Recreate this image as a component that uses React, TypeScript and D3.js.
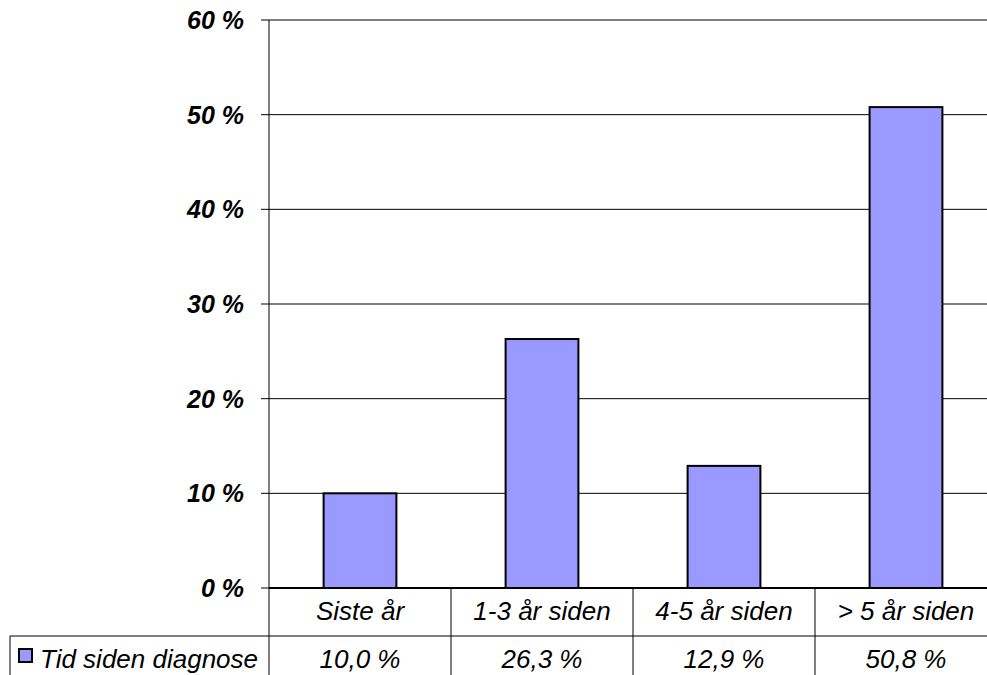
import React from "react";
import * as d3 from "d3";

const categories = ["Siste år", "1-3 år siden", "4-5 år siden", "> 5 år siden"];
const values = [10.0, 26.3, 12.9, 50.8];
const valueLabels = ["10,0 %", "26,3 %", "12,9 %", "50,8 %"];
const yTicks = [0, 10, 20, 30, 40, 50, 60];
const seriesName = "Tid siden diagnose";

const W = 987;
const H = 675;
const plotLeft = 269;
const plotRight = 997;
const plotTop = 20;
const plotBottom = 588;
const row1Bottom = 636;
const tableBottom = 680;
const legendLeft = 10;
const font = "'Liberation Sans', Arial, sans-serif";

export default function App() {
  const x = d3.scaleBand<string>().domain(categories).range([plotLeft, plotRight]).paddingInner(0).paddingOuter(0);
  const y = d3.scaleLinear().domain([0, 60]).range([plotBottom, plotTop]);
  const barW = x.bandwidth() * 0.4;
  const fill = "#9999ff";

  return (
    <svg width={W} height={H} style={{ position: "absolute", left: 0, top: 0, background: "#fff" }}>
      {/* gridlines and tick marks */}
      {yTicks.map((t) => (
        <g key={t}>
          <line x1={plotLeft - 8} x2={W} y1={y(t)} y2={y(t)} stroke="#000" strokeWidth={1} />
          <text
            x={244}
            y={y(t) + 9}
            textAnchor="end"
            fontFamily={font}
            fontSize={25}
            fontWeight="bold"
            fontStyle="italic"
            fill="#000"
          >
            {t} %
          </text>
        </g>
      ))}
      {/* bars */}
      {categories.map((c, i) => (
        <rect
          key={c}
          x={x(c)! + (x.bandwidth() - barW) / 2}
          y={y(values[i])}
          width={barW}
          height={y(0) - y(values[i])}
          fill={fill}
          stroke="#000"
          strokeWidth={2}
        />
      ))}
      {/* y axis */}
      <line x1={plotLeft} x2={plotLeft} y1={plotTop} y2={tableBottom} stroke="#000" strokeWidth={1} />
      <line x1={plotLeft} x2={W} y1={plotBottom} y2={plotBottom} stroke="#000" strokeWidth={2} />
      {/* data table */}
      <line x1={legendLeft} x2={W} y1={row1Bottom} y2={row1Bottom} stroke="#000" strokeWidth={1} />
      <line x1={legendLeft} x2={legendLeft} y1={row1Bottom} y2={tableBottom} stroke="#000" strokeWidth={1} />
      {categories.slice(1).map((c) => (
        <line key={c} x1={x(c)!} x2={x(c)!} y1={plotBottom} y2={tableBottom} stroke="#000" strokeWidth={1} />
      ))}
      {categories.map((c, i) => (
        <g key={c}>
          <text
            x={x(c)! + x.bandwidth() / 2}
            y={620}
            textAnchor="middle"
            fontFamily={font}
            fontSize={26}
            fontStyle="italic"
            fill="#000"
          >
            {c}
          </text>
          <text
            x={x(c)! + x.bandwidth() / 2}
            y={668}
            textAnchor="middle"
            fontFamily={font}
            fontSize={26}
            fontStyle="italic"
            fill="#000"
          >
            {valueLabels[i]}
          </text>
        </g>
      ))}
      {/* legend key */}
      <rect x={19} y={649} width={13} height={13} fill={fill} stroke="#000" strokeWidth={2} />
      <text x={40} y={668} fontFamily={font} fontSize={26} fontStyle="italic" fill="#000">
        {seriesName}
      </text>
    </svg>
  );
}
